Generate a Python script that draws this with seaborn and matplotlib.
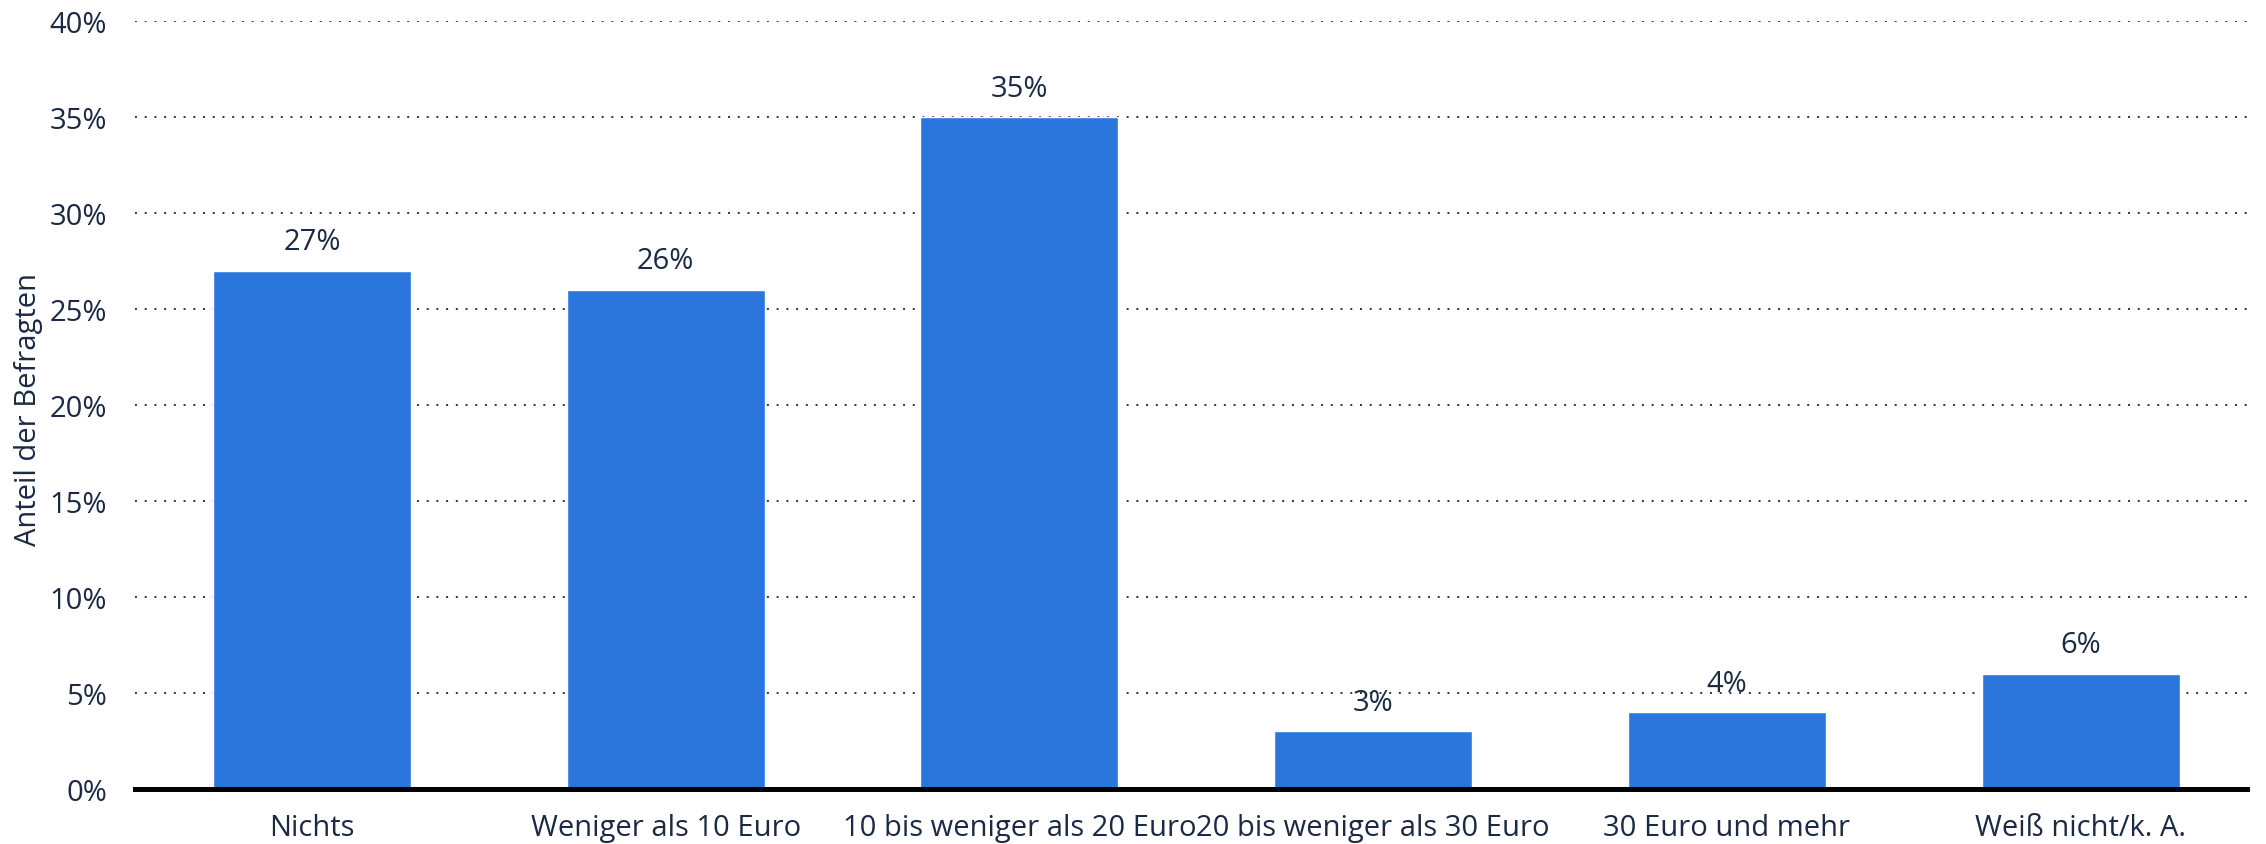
import matplotlib
matplotlib.use("Agg")
import matplotlib.pyplot as plt
import seaborn as sns
import pandas as pd
from matplotlib.ticker import FuncFormatter

# Daten
kategorien = ["Nichts", "Weniger als 10 Euro", "10 bis weniger als 20 Euro",
              "20 bis weniger als 30 Euro", "30 Euro und mehr", "Weiß nicht/k. A."]
anteile = [27, 26, 35, 3, 4, 6]

df = pd.DataFrame({"kategorie": kategorien, "anteil": anteile})

sns.set_style("white")
plt.rcParams["font.family"] = ["Open Sans", "DejaVu Sans"]
textfarbe = "#1b2a44"
fs = 21

fig, ax = plt.subplots(figsize=(22.66, 8.45), dpi=100)
fig.subplots_adjust(left=0.0596, right=0.9916, top=0.974, bottom=0.065)

sns.barplot(data=df, x="kategorie", y="anteil", color="#2a76dd",
            width=0.56, saturation=1, ax=ax, zorder=3)

for i, v in enumerate(anteile):
    ax.text(i, v + 0.75, f"{v}%", ha="center", va="bottom",
            fontsize=fs, color=textfarbe)

ax.set_ylim(0, 40)
ax.set_xlim(-0.5, 5.47)
ax.set_yticks(range(0, 41, 5))
ax.yaxis.set_major_formatter(FuncFormatter(lambda v, p: f"{int(v)}%"))
ax.grid(axis="y", linestyle=(0, (1, 4)), color="#333333", linewidth=1.4, zorder=0)
ax.set_xlabel("")
ax.set_ylabel("")
fig.text(29 / 2266, 0.515, "Anteil der Befragten", rotation=90, ha="center",
         va="center", fontsize=fs, color=textfarbe)
ax.tick_params(axis="both", labelsize=fs, colors=textfarbe, length=0)
ax.tick_params(axis="x", pad=17)
ax.tick_params(axis="y", pad=20)

for s in ["top", "right", "left"]:
    ax.spines[s].set_visible(False)
ax.spines["bottom"].set_color("black")
ax.spines["bottom"].set_linewidth(3.6)
ax.spines["bottom"].set_zorder(5)

fig.savefig("out.png", dpi=100)
